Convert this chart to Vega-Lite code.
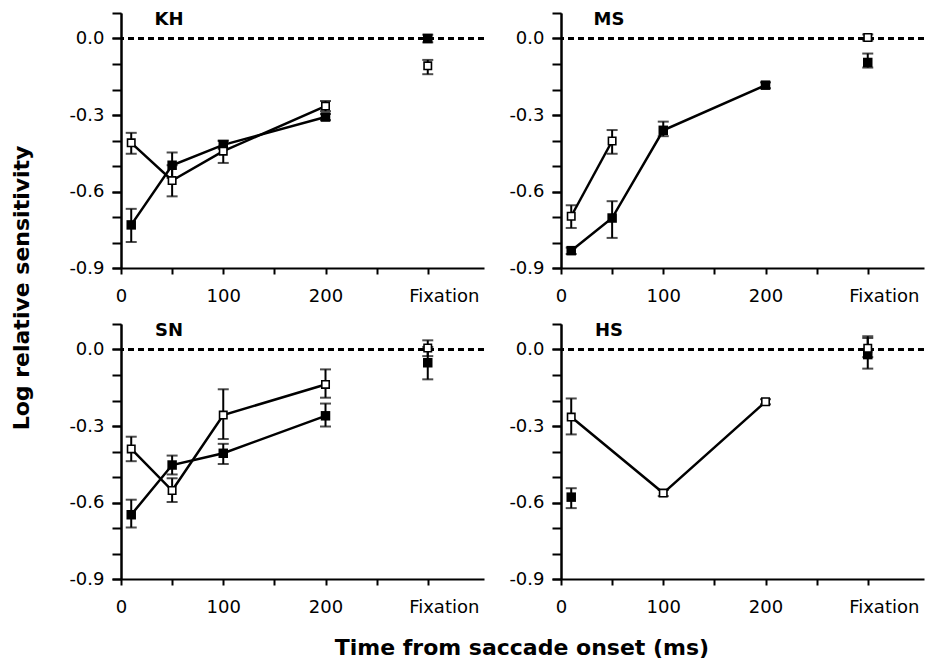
{
  "$schema": "https://vega.github.io/schema/vega-lite/v6.json",
  "padding": {"left": 10, "top": 10, "right": 0, "bottom": 0},
  "background": "white",
  "config": {
    "view": {"stroke": null},
    "font": "DejaVu Sans",
    "axis": {"domainColor": "black", "domainWidth": 2, "tickColor": "black", "tickWidth": 2, "labelColor": "black", "labelFont": "DejaVu Sans", "labelFontSize": 18, "grid": false, "labelOverlap": false, "labelFlush": false},
    "axisX": {"tickSize": 6, "labelPadding": 13},
    "axisY": {"tickSize": 9, "labelPadding": 8},
    "header": {"labels": false},
    "title": {"font": "DejaVu Sans", "fontWeight": "bold", "fontSize": 22, "color": "black"}
  },
  "title": {"text": "Log relative sensitivity", "orient": "left", "anchor": "middle", "offset": 35, "dx": 47},
  "vconcat": [
    {
      "title": {"text": "Time from saccade onset (ms)", "orient": "bottom", "anchor": "middle", "offset": 22, "dx": 25},
      "data": {"values": [
        {"subject": "KH", "t": 10, "v": -0.731, "lo": -0.798, "hi": -0.668, "cond": "filled"},
        {"subject": "KH", "t": 50, "v": -0.497, "lo": -0.547, "hi": -0.447, "cond": "filled"},
        {"subject": "KH", "t": 100, "v": -0.417, "lo": -0.432, "hi": -0.402, "cond": "filled"},
        {"subject": "KH", "t": 200, "v": -0.308, "lo": -0.32, "hi": -0.296, "cond": "filled"},
        {"subject": "KH", "t": 300, "v": 0.0, "lo": -0.015, "hi": 0.015, "cond": "filled"},
        {"subject": "KH", "t": 10, "v": -0.409, "lo": -0.452, "hi": -0.37, "cond": "open"},
        {"subject": "KH", "t": 50, "v": -0.557, "lo": -0.619, "hi": -0.497, "cond": "open"},
        {"subject": "KH", "t": 100, "v": -0.442, "lo": -0.488, "hi": -0.4, "cond": "open"},
        {"subject": "KH", "t": 200, "v": -0.265, "lo": -0.285, "hi": -0.245, "cond": "open"},
        {"subject": "KH", "t": 300, "v": -0.107, "lo": -0.14, "hi": -0.084, "cond": "open"},
        {"subject": "MS", "t": 10, "v": -0.832, "lo": -0.845, "hi": -0.82, "cond": "filled"},
        {"subject": "MS", "t": 50, "v": -0.704, "lo": -0.782, "hi": -0.638, "cond": "filled"},
        {"subject": "MS", "t": 100, "v": -0.36, "lo": -0.383, "hi": -0.326, "cond": "filled"},
        {"subject": "MS", "t": 200, "v": -0.183, "lo": -0.195, "hi": -0.172, "cond": "filled"},
        {"subject": "MS", "t": 300, "v": -0.094, "lo": -0.114, "hi": -0.059, "cond": "filled"},
        {"subject": "MS", "t": 10, "v": -0.697, "lo": -0.743, "hi": -0.654, "cond": "open"},
        {"subject": "MS", "t": 50, "v": -0.402, "lo": -0.452, "hi": -0.359, "cond": "open"},
        {"subject": "MS", "t": 300, "v": 0.004, "lo": -0.008, "hi": 0.016, "cond": "open"},
        {"subject": "SN", "t": 10, "v": -0.648, "lo": -0.698, "hi": -0.589, "cond": "filled"},
        {"subject": "SN", "t": 50, "v": -0.453, "lo": -0.49, "hi": -0.416, "cond": "filled"},
        {"subject": "SN", "t": 100, "v": -0.407, "lo": -0.449, "hi": -0.37, "cond": "filled"},
        {"subject": "SN", "t": 200, "v": -0.26, "lo": -0.302, "hi": -0.212, "cond": "filled"},
        {"subject": "SN", "t": 300, "v": -0.052, "lo": -0.117, "hi": 0.01, "cond": "filled"},
        {"subject": "SN", "t": 10, "v": -0.39, "lo": -0.438, "hi": -0.342, "cond": "open"},
        {"subject": "SN", "t": 50, "v": -0.553, "lo": -0.598, "hi": -0.505, "cond": "open"},
        {"subject": "SN", "t": 100, "v": -0.257, "lo": -0.351, "hi": -0.156, "cond": "open"},
        {"subject": "SN", "t": 200, "v": -0.137, "lo": -0.189, "hi": -0.078, "cond": "open"},
        {"subject": "SN", "t": 300, "v": 0.006, "lo": -0.026, "hi": 0.036, "cond": "open"},
        {"subject": "HS", "t": 10, "v": -0.579, "lo": -0.622, "hi": -0.544, "cond": "filled"},
        {"subject": "HS", "t": 300, "v": -0.02, "lo": -0.075, "hi": 0.045, "cond": "filled"},
        {"subject": "HS", "t": 10, "v": -0.265, "lo": -0.333, "hi": -0.192, "cond": "open"},
        {"subject": "HS", "t": 100, "v": -0.563, "lo": -0.575, "hi": -0.551, "cond": "open"},
        {"subject": "HS", "t": 200, "v": -0.205, "lo": -0.215, "hi": -0.195, "cond": "open"},
        {"subject": "HS", "t": 300, "v": 0.005, "lo": -0.03, "hi": 0.052, "cond": "open"}
      ]},
      "transform": [
        {"calculate": "datum.subject == 'KH' || datum.subject == 'MS' ? 'top' : 'bottom'", "as": "panelRow"},
        {"calculate": "datum.subject == 'KH' || datum.subject == 'SN' ? 'left' : 'right'", "as": "panelCol"}
      ],
      "facet": {
        "row": {"field": "panelRow", "type": "nominal", "sort": ["top", "bottom"], "header": {"title": null, "labels": false}},
        "column": {"field": "panelCol", "type": "nominal", "sort": ["left", "right"], "header": {"title": null, "labels": false}}
      },
      "spacing": {"row": 56, "column": 77},
      "bounds": "flush",
      "resolve": {"axis": {"x": "independent", "y": "independent"}},
      "spec": {
        "width": 363,
        "height": 255,
        "resolve": {"axis": {"y": "independent"}},
        "layer": [
          {
            "mark": {"type": "rule", "strokeDash": [6, 4], "strokeWidth": 1.8, "color": "black"},
            "encoding": {
              "y": {"datum": 0, "type": "quantitative", "title": null,
                "scale": {"domain": [-0.9, 0.1], "nice": false, "zero": false},
                "axis": {"orient": "left", "values": [-0.9, -0.8, -0.7, -0.6, -0.5, -0.4, -0.3, -0.2, -0.1, 0, 0.1], "labels": false}}
            }
          },
          {
            "transform": [{"filter": "datum.t < 300"}],
            "mark": {"type": "line", "color": "black", "strokeWidth": 2.5},
            "encoding": {
              "x": {"field": "t", "type": "quantitative", "title": null,
                "scale": {"domain": [0, 355], "nice": false, "zero": false},
                "axis": {"values": [0, 50, 100, 150, 200, 250, 300], "labelOverlap": false, "labelFlush": false,
                  "labelExpr": "datum.value == 300 ? 'Fixation' : datum.label",
                  "labelOpacity": {"condition": {"test": "datum.value % 100 == 0", "value": 1}, "value": 0},
                  "labelOffset": {"condition": {"test": "datum.value == 300", "value": 16}, "value": 0}}},
              "y": {"field": "v", "type": "quantitative", "title": null,
                "scale": {"domain": [-0.9, 0.1], "nice": false, "zero": false},
                "axis": {"orient": "left", "values": [-0.9, -0.6, -0.3, 0], "labelOverlap": false, "labelFlush": false,
                  "labelExpr": "replace(format(datum.value, '.1f'), '−', '-')"}},
              "detail": {"field": "cond", "type": "nominal"}
            }
          },
          {
            "mark": {"type": "errorbar", "color": "black", "thickness": 2, "ticks": {"size": 11}},
            "encoding": {
              "x": {"field": "t", "type": "quantitative", "title": null},
              "y": {"field": "lo", "type": "quantitative", "title": null, "axis": null},
              "y2": {"field": "hi"}
            }
          },
          {
            "transform": [{"filter": "datum.cond == 'filled'"}],
            "mark": {"type": "point", "shape": "square", "filled": true, "color": "black", "size": 90, "opacity": 1},
            "encoding": {
              "x": {"field": "t", "type": "quantitative", "title": null},
              "y": {"field": "v", "type": "quantitative", "title": null, "axis": null}
            }
          },
          {
            "transform": [{"filter": "datum.cond == 'open'"}],
            "mark": {"type": "point", "shape": "square", "filled": true, "fill": "white", "stroke": "black", "strokeWidth": 1.6, "size": 55, "opacity": 1},
            "encoding": {
              "x": {"field": "t", "type": "quantitative", "title": null},
              "y": {"field": "v", "type": "quantitative", "title": null, "axis": null}
            }
          },
          {
            "transform": [{"filter": "datum.t == 300 && datum.cond == 'open'"}],
            "mark": {"type": "text", "font": "DejaVu Sans", "fontWeight": "bold", "fontSize": 18, "align": "center", "baseline": "middle", "color": "black"},
            "encoding": {
              "x": {"datum": 47, "type": "quantitative"},
              "y": {"datum": 0.073, "type": "quantitative", "axis": null},
              "text": {"field": "subject", "type": "nominal"}
            }
          }
        ]
      }
    }
  ]
}
